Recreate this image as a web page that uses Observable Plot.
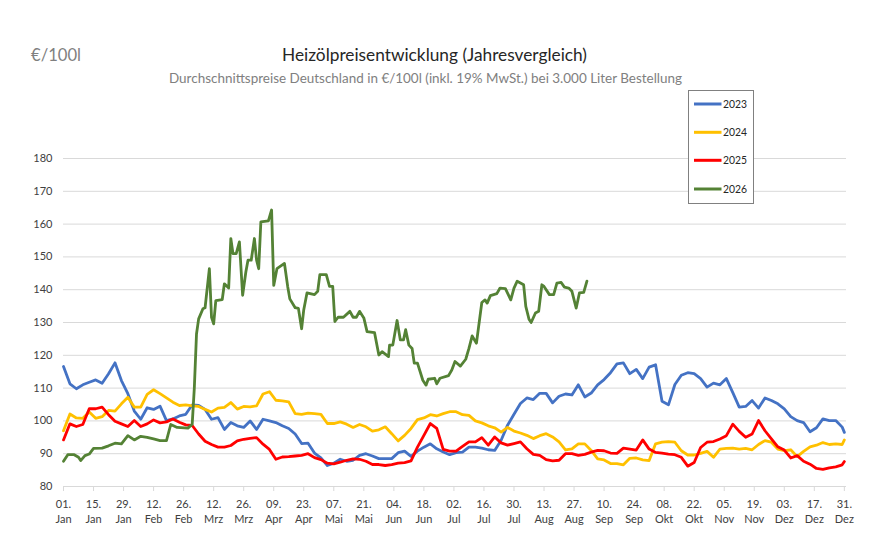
<!DOCTYPE html>
<html>
<head>
<meta charset="utf-8">
<script src="https://cdn.jsdelivr.net/npm/d3@7"></script>
<script src="https://cdn.jsdelivr.net/npm/@observablehq/plot@0.6"></script>
<style>
  body { margin: 0; background: #fff; }
  #wrap { position: relative; width: 882px; height: 554px; overflow: hidden; background: #fff; font-family: Lato, "Open Sans", sans-serif; }
  #chart { position: absolute; left: 0; top: 0; width: 882px; height: 554px; }
  #overlay { position: absolute; left: 0; top: 0; }
</style>
</head>
<body>
<div id="wrap">
  <div id="chart"></div>
  <svg id="overlay" width="882" height="215"></svg>
</div>
<script>
// ---------- texts ----------
const unitLabel = "€/100l";
const titleText = "Heizölpreisentwicklung (Jahresvergleich)";
const subtitleText = "Durchschnittspreise Deutschland in €/100l (inkl. 19% MwSt.) bei 3.000 Liter Bestellung";

// ---------- axis ticks ----------
const yTicks = [80, 90, 100, 110, 120, 130, 140, 150, 160, 170, 180];
const xTickDays = [0, 14, 28, 42, 56, 70, 84, 98, 112, 126, 140, 154, 168, 182, 196, 210, 224, 238, 252, 266, 280, 294, 308, 322, 336, 350, 364];
const xTickDayLabels = ["01.", "15.", "29.", "12.", "26.", "12.", "26.", "09.", "23.", "07.", "21.", "04.", "18.", "02.", "16.", "30.", "13.", "27.", "10.", "24.", "08.", "22.", "05.", "19.", "03.", "17.", "31."];
const xTickMonthLabels = ["Jan", "Jan", "Jan", "Feb", "Feb", "Mrz", "Mrz", "Apr", "Apr", "Mai", "Mai", "Jun", "Jun", "Jul", "Jul", "Jul", "Aug", "Aug", "Sep", "Sep", "Okt", "Okt", "Nov", "Nov", "Dez", "Dez", "Dez"];

// ---------- data (day of year, every 3rd day + 31 Dez) ----------
const days = [0, 3, 6, 9, 12, 15, 18, 21, 24, 27, 30, 33, 36, 39, 42, 45, 48, 51, 54, 57,
  60, 63, 66, 69, 72, 75, 78, 81, 84, 87, 90, 93, 96, 99, 102, 105, 108, 111, 114, 117,
  120, 123, 126, 129, 132, 135, 138, 141, 144, 147, 150, 153, 156, 159, 162, 165, 168, 171, 174, 177,
  180, 183, 186, 189, 192, 195, 198, 201, 204, 207, 210, 213, 216, 219, 222, 225, 228, 231, 234, 237,
  240, 243, 246, 249, 252, 255, 258, 261, 264, 267, 270, 273, 276, 279, 282, 285, 288, 291, 294, 297,
  300, 303, 306, 309, 312, 315, 318, 321, 324, 327, 330, 333, 336, 339, 342, 345, 348, 351, 354, 357,
  360, 363, 364];

const v2023 = [
  116.6, 111.3, 109.8, 111, 111.8, 112.5, 111.5, 114.4, 117.7, 112.3,
  108.3, 103, 100.5, 104, 103.5, 104.5, 100.1, 100.6, 101.5, 102,
  104.9, 104.7, 103.5, 100.5, 101, 97.4, 99.5, 98.5, 98, 100,
  97.4, 100.5, 100, 99.5, 98.5, 97.7, 96, 93.1, 93.2, 90.2,
  88.7, 86.4, 87.1, 88.3, 87.7, 88, 89.5, 90, 89.3, 88.5,
  88.5, 88.5, 90.3, 90.8, 89.2, 90.8, 92, 93, 91.5, 90.5,
  89.7, 90.3, 90.5, 92, 92, 91.7, 91.2, 91, 94.1, 98.7,
  102, 105.3, 107, 106.5, 108.4, 108.4, 105.5, 107.5, 108.2, 107.9,
  111, 107.3, 108.5, 111, 112.6, 114.7, 117.4, 117.7, 114.4, 115.7,
  112.9, 116.4, 117.1, 106, 104.9, 111.1, 113.9, 114.7, 114.4, 112.9,
  110.3, 111.5, 111, 112.9, 108.6, 104.2, 104.4, 106.2, 103.9, 107,
  106.2, 105.2, 103.7, 101.3, 100.1, 99.5, 96.7, 97.9, 100.6, 100.1,
  100.1, 98.1, 96.5];

const v2024 = [
  97, 102.1, 100.9, 100.8, 102.7, 100.8, 101.3, 103.2, 103, 105.2,
  107.2, 104.2, 104.2, 108.1, 109.5, 108.3, 107, 105.7, 104.7, 104.9,
  104.6, 104.4, 103.5, 102.7, 103.9, 104.1, 105.6, 103.6, 104.4, 104.3,
  104.6, 108.2, 108.9, 106.3, 106.1, 105.8, 102.2, 102, 102.4, 102.2,
  102, 99.2, 99.2, 99.7, 99, 98, 98.9, 98.2, 96.9, 97.3,
  98.2, 96.1, 93.9, 95.6, 97.7, 100.4, 100.9, 101.9, 101.5, 102.2,
  102.8, 102.8, 101.9, 101.7, 100, 99.4, 98.5, 97.9, 96.6, 98,
  96.9, 96.3, 95.6, 94.6, 95.5, 96.1, 95.1, 93.6, 91.2, 91.5,
  93, 93, 91, 88.4, 88.1, 87, 87, 86.6, 88.6, 88.7,
  88.1, 87.9, 93, 93.5, 93.7, 93.5, 90.9, 89.6, 89.6, 90.1,
  90.7, 88.9, 91.4, 91.6, 91.7, 91.4, 91.6, 91.2, 92.8, 94,
  93.5, 91.4, 90.9, 91.2, 89.1, 90.7, 92.1, 92.6, 93.4, 92.8,
  93, 92.8, 94.2];

const v2025 = [
  94.2, 99.1, 98.3, 98.9, 103.7, 103.7, 104.2, 101.9, 99.9, 99.1,
  98.3, 100.1, 98.3, 99.1, 100.3, 99.4, 99.7, 100.6, 99.6, 98.8,
  98.6, 96, 93.8, 92.8, 92, 92, 92.5, 93.9, 94.4, 94.7,
  94.9, 92.9, 91.3, 88.3, 89, 89.1, 89.3, 89.5, 90, 88.8,
  88.2, 87.1, 86.9, 87.4, 88, 88.4, 88.3, 87.7, 86.7, 86.7,
  86.4, 86.7, 87.1, 87.3, 87.8, 92, 95.6, 99.2, 97.7, 91.3,
  90.8, 90.8, 92.2, 93.6, 93.6, 94.9, 92.6, 95.1, 93.3, 92.6,
  93.1, 93.6, 91.5, 89.8, 89.5, 88.2, 87.8, 88, 90, 90,
  89.5, 89.8, 90.5, 91, 90.9, 90.2, 90.1, 91.7, 91.4, 91.1,
  94.2, 91.4, 90.4, 90.2, 89.9, 89.7, 88.9, 86.2, 87.3, 91.9,
  93.5, 93.7, 94.5, 95.5, 99, 96.8, 95, 96, 100.1, 97,
  94.5, 92.1, 91.1, 88.7, 89.4, 87.7, 86.8, 85.5, 85.2, 85.7,
  86, 86.6, 87.6];

// 2026: irregular days (day of year) to keep the sharp spikes
const days2026 = [
  0, 2, 5, 7, 8, 10, 12, 14, 18, 21, 24, 27, 30, 33, 36, 39, 42, 45, 48, 50,
  53, 58, 60, 61, 62, 63, 65, 66, 68, 69, 70, 71, 74, 75, 77, 78, 79, 80.5, 82, 83.5,
  85, 86, 87.5, 89, 90, 91, 92, 95.5, 97, 98, 99.5, 103, 104.5, 105.5, 108, 109.5, 111, 112, 113.5, 117,
  118.5, 119.5, 122.5, 124, 125.5, 126.5, 128, 130.5, 133.5, 135, 136.5, 138, 140, 141.5, 145, 147, 148.5, 151.5, 152, 153.5,
  155.5, 157, 158.5, 159.5, 161, 162.5, 163.5, 165, 167.5, 169, 170, 173, 174, 175.5, 179.5, 181, 182.5, 185, 187.5, 189,
  190.5, 192.5, 195, 196.5, 197.5, 199, 202, 203.5, 206, 208.5, 210, 211.5, 214.5, 215.5, 217, 218, 220, 221.5, 223, 224,
  226.5, 228.5, 230, 232, 233.5, 235.5, 237, 239, 240.5, 242.5, 244];
const v2026 = [
  87.7, 89.7, 89.7, 88.9, 87.9, 89.4, 89.9, 91.6, 91.7, 92.4, 93.2, 93, 95.5, 94.2, 95.3, 95, 94.5, 94, 94, 98.9,
  98, 97.8, 99, 110.2, 126.5, 131.1, 134.2, 134.5, 146.4, 131.6, 129.6, 136.7, 137, 141.8, 140.5, 155.6, 151, 151, 154.6, 138.3,
  145.4, 149, 149, 155.6, 149, 146.4, 160.7, 161, 164.3, 141.3, 146.4, 148, 141, 137.2, 134.5, 134.3, 128.1, 133.9, 139, 138.5,
  139.5, 144.6, 144.6, 141, 141, 130.3, 131.6, 131.6, 133.4, 131.6, 131.6, 133.4, 131.4, 127.2, 126.9, 120.1, 121.1, 119.6, 123.1, 123.1,
  130.6, 124.7, 124.7, 127.8, 123.1, 122.1, 117.6, 117.6, 112.4, 110.9, 112.7, 113, 111.3, 113, 113.8, 115.5, 118.1, 116.7, 118.8, 122.1,
  125.9, 123.7, 136.1, 136.9, 135.9, 138.2, 138.8, 140.5, 140.3, 136.9, 140.5, 142.6, 141.5, 134.9, 131, 130, 132.9, 133.4, 141.5, 141,
  138.5, 138.5, 142, 142.2, 140.8, 140.5, 139.5, 134.4, 139, 139.2, 142.6];

const years = ["2023", "2024", "2025", "2026"];
const colors = ["#4472C4", "#FFC000", "#FF0000", "#548235"];

const seriesData = [
  days.map((d, i) => ({day: d, value: v2023[i]})),
  days.map((d, i) => ({day: d, value: v2024[i]})),
  days.map((d, i) => ({day: d, value: v2025[i]})),
  days2026.map((d, i) => ({day: d, value: v2026[i]}))
];

const tickLabels = xTickDays.map((d, i) => xTickDayLabels[i] + "\n" + xTickMonthLabels[i]);

const chart = Plot.plot({
  width: 882,
  height: 554,
  marginLeft: 63,
  marginRight: 36,
  marginTop: 158,
  marginBottom: 68,
  x: {domain: [0, 365]},
  y: {domain: [80, 180], axis: null},
  style: {fontFamily: "Lato, 'Open Sans', sans-serif", fontSize: "11px", background: "transparent", color: "#595959"},
  marks: [
    Plot.gridY(yTicks, {stroke: "#d9d9d9", strokeOpacity: 1, strokeWidth: 1}),
    Plot.axisX(xTickDays, {tickSize: 5, tickFormat: () => "", color: "#d9d9d9", strokeOpacity: 1, label: null}),
    Plot.text(yTicks, {x: 0, y: d => d, text: d => String(d), textAnchor: "end", dx: -11, fontSize: 11, fill: "#404040"}),
    Plot.text(xTickDays, {x: d => d, y: 80, text: (d, i) => tickLabels[i], lineAnchor: "top", dy: 11, lineHeight: 1.36, fontSize: 11, fill: "#404040"}),
    ...seriesData.map((data, k) => Plot.line(data, {x: "day", y: "value", stroke: colors[k], strokeWidth: 2.8, strokeLinejoin: "round", strokeLinecap: "round"}))
  ]
});
document.getElementById("chart").appendChild(chart);

// ---------- header & legend ----------
const ov = d3.select("#overlay").style("font-family", "Lato, 'Open Sans', sans-serif");
ov.append("text").attr("x", 31).attr("y", 61).attr("font-size", 18).attr("fill", "#7f7f7f")
  .attr("textLength", 50).attr("lengthAdjust", "spacingAndGlyphs").text(unitLabel);
ov.append("text").attr("x", 434.5).attr("y", 60.5).attr("text-anchor", "middle").attr("font-size", 17.5).attr("fill", "#262626")
  .attr("textLength", 305).attr("lengthAdjust", "spacingAndGlyphs").text(titleText);
ov.append("text").attr("x", 425.5).attr("y", 83).attr("text-anchor", "middle").attr("font-size", 13).attr("fill", "#808080")
  .attr("textLength", 513).attr("lengthAdjust", "spacingAndGlyphs").text(subtitleText);

const lg = ov.append("g");
lg.append("rect").attr("x", 688.5).attr("y", 90.5).attr("width", 65).attr("height", 113)
  .attr("fill", "#fff").attr("stroke", "#808080").attr("stroke-width", 1);
const legendY = [104, 132.3, 160.3, 189];
years.forEach((yr, i) => {
  lg.append("line").attr("x1", 694).attr("x2", 721.5).attr("y1", legendY[i]).attr("y2", legendY[i])
    .attr("stroke", colors[i]).attr("stroke-width", 3);
  lg.append("text").attr("x", 723).attr("y", legendY[i] + 4).attr("font-size", 12).attr("fill", "#262626")
    .attr("textLength", 24).attr("lengthAdjust", "spacingAndGlyphs").text(yr);
});
</script>
</body>
</html>
